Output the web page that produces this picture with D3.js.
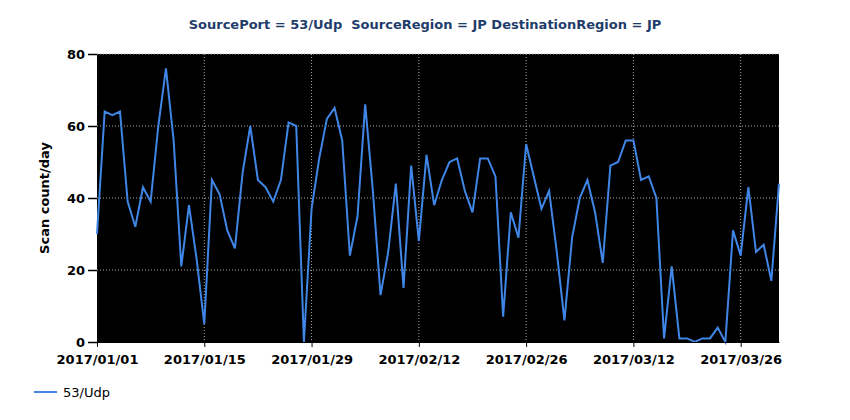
<!DOCTYPE html>
<html>
<head>
<meta charset="utf-8" />
<title>Scan count/day</title>
<script src="https://d3js.org/d3.v7.min.js"></script>
<style type="text/css">
	body { margin: 0; background: #fff; }
	.tick text { font-family: "DejaVu Sans", sans-serif; font-size: 13px; font-weight: bold; fill: #000; }
	.grid line { stroke: #a8a8a8; stroke-dasharray: 1,2; }
</style>
</head>
<body>
<script>
	// daily scan counts, 2017/01/01 .. 2017/03/31
	const startDate = "2017/01/01";
	const seriesName = "53/Udp";
	const counts = [
		30, 64, 63, 64, 39, 32, 43, 39, 60, 76,
		56, 21, 38, 23, 5, 45, 41, 31, 26, 47,
		60, 45, 43, 39, 45, 61, 60, 0, 37, 51,
		62, 65, 56, 24, 35, 66, 42, 13, 25, 44,
		15, 49, 28, 52, 38, 45, 50, 51, 42, 36,
		51, 51, 46, 7, 36, 29, 55, 46, 37, 42,
		25, 6, 29, 40, 45, 36, 22, 49, 50, 56,
		56, 45, 46, 40, 1, 21, 1, 1, 0, 1,
		1, 4, 0, 31, 24, 43, 25, 27, 17, 44
	];
	const xTickLabels = ["2017/01/01", "2017/01/15", "2017/01/29", "2017/02/12", "2017/02/26", "2017/03/12", "2017/03/26"];
	const yTicks = [0, 20, 40, 60, 80];

	const parse = d3.timeParse("%Y/%m/%d");
	const fmt = d3.timeFormat("%Y/%m/%d");
	const t0 = parse(startDate);
	const data = counts.map((v, i) => ({date: d3.timeDay.offset(t0, i), value: v}));

	const width = 850, height = 420;
	const margin = {top: 54, right: 71, bottom: 78, left: 97};
	const w = width - margin.left - margin.right;
	const h = height - margin.top - margin.bottom;

	const svg = d3.select("body").append("svg")
		.attr("width", width)
		.attr("height", height);

	svg.append("text")
		.attr("x", width / 2)
		.attr("y", 29)
		.attr("text-anchor", "middle")
		.attr("font-family", "DejaVu Sans, sans-serif")
		.attr("font-size", 13)
		.attr("font-weight", "bold")
		.attr("fill", "#1f3d6b")
		.attr("xml:space", "preserve")
		.text("SourcePort = 53/Udp  SourceRegion = JP DestinationRegion = JP");

	const g = svg.append("g").attr("transform", `translate(${margin.left},${margin.top})`);

	const x = d3.scaleTime()
		.domain(d3.extent(data, d => d.date))
		.range([0, w]);
	const y = d3.scaleLinear()
		.domain([0, 80])
		.range([h, 0]);

	g.append("rect").attr("width", w).attr("height", h).attr("fill", "#000");

	const xTickDates = xTickLabels.map(parse);

	// grid
	g.append("g").attr("class", "grid")
		.selectAll("line.v").data(xTickDates.slice(1)).join("line")
		.attr("x1", d => x(d)).attr("x2", d => x(d))
		.attr("y1", 0).attr("y2", h);
	g.append("g").attr("class", "grid")
		.selectAll("line.h").data(yTicks.slice(1)).join("line")
		.attr("x1", 0).attr("x2", w)
		.attr("y1", d => y(d)).attr("y2", d => y(d));

	const line = d3.line()
		.x(d => x(d.date))
		.y(d => y(d.value));

	g.append("path")
		.datum(data)
		.attr("fill", "none")
		.attr("stroke", "#3f86e6")
		.attr("stroke-width", 2)
		.attr("d", line);

	const xAxis = g.append("g")
		.attr("transform", `translate(0,${h})`)
		.call(d3.axisBottom(x).tickValues(xTickDates).tickFormat(fmt).tickSize(5).tickSizeOuter(0));
	xAxis.select(".domain").attr("stroke", "#000");
	xAxis.selectAll(".tick text").attr("dy", "1.05em");

	const yAxis = g.append("g")
		.call(d3.axisLeft(y).tickValues(yTicks).tickSize(9).tickPadding(3));
	yAxis.select(".domain").remove();
	yAxis.selectAll(".tick line").attr("stroke-width", 1.5);

	svg.append("text")
		.attr("transform", `translate(49,${margin.top + h / 2}) rotate(-90)`)
		.attr("text-anchor", "middle")
		.attr("font-family", "DejaVu Sans, sans-serif")
		.attr("font-size", 13)
		.attr("font-weight", "bold")
		.text("Scan count/day");

	// legend
	const legend = svg.append("g").attr("transform", "translate(34,392)");
	legend.append("line").attr("x1", 0).attr("x2", 23)
		.attr("stroke", "#3f86e6").attr("stroke-width", 2);
	legend.append("text").attr("x", 29).attr("y", 5)
		.attr("font-family", "DejaVu Sans, sans-serif")
		.attr("font-size", 13)
		.text(seriesName);
</script>
</body>
</html>
